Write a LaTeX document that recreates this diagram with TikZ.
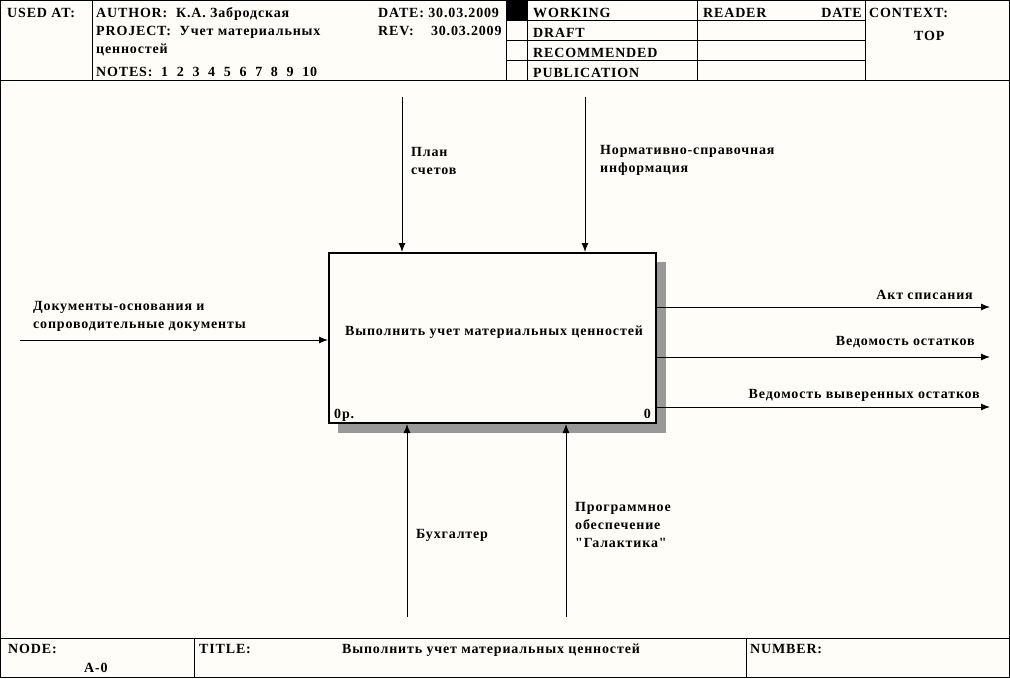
\documentclass[tikz,border=0pt]{standalone}
\usepackage{fontspec}
\setmainfont{Liberation Serif}
\newfontfamily\idef[LetterSpace=6]{Liberation Serif}
\usetikzlibrary{arrows.meta}
\definecolor{paper}{HTML}{FFFDF8}
\tikzset{
  hdr/.style={anchor=base west,inner sep=0pt,font=\idef\bfseries\fontsize{14}{18}\selectfont},
  lbl/.style={anchor=base west,inner sep=0pt,align=left,font=\idef\bfseries\fontsize{14}{18}\selectfont},
  lblr/.style={anchor=base east,inner sep=0pt,font=\idef\bfseries\fontsize{14}{18}\selectfont},
  frame/.style={draw=black,line width=1pt},
  arr/.style={draw=black,line width=1pt,-{Latex[length=9pt,width=7pt]}},
  fbox/.style={draw=black,line width=2pt,fill=paper,minimum width=327pt,minimum height=170pt,inner sep=0pt},
  shadow/.style={fill=black!40},
}
\begin{document}
\begin{tikzpicture}[x=1pt,y=-1pt]
\useasboundingbox (0,0) rectangle (1010,678);
\fill[paper] (0,0) rectangle (1010,678);
% outer frame and header
\draw[frame] (0.5,0.5) rectangle (1009.5,677.5);
\draw[frame] (0,80.5) -- (1010,80.5);
\draw[frame] (92.5,0) -- (92.5,80.5);
\draw[frame] (506.5,0) -- (506.5,80.5);
\draw[frame] (527.5,0) -- (527.5,80.5);
\draw[frame] (697.5,0) -- (697.5,80.5);
\draw[frame] (865.5,0) -- (865.5,80.5);
\foreach \yy in {20.5,40.5,60.5} \draw[frame] (506.5,\yy) -- (865.5,\yy);
\fill[black] (506.5,0) rectangle (527.5,20.5);
% footer
\draw[frame] (0,638.5) -- (1010,638.5);
\draw[frame] (194.5,638.5) -- (194.5,678);
\draw[frame] (746.5,638.5) -- (746.5,678);
% header texts
\node[hdr] (usedat) at (7,17) {USED AT:};
\node[hdr] (author) at (96,17) {AUTHOR:\ \ К.А. Забродская};
\node[hdr] (project) at (96,35) {PROJECT:\ \ Учет материальных};
\node[hdr] (project2) at (96,53) {ценностей};
\node[hdr] (notes) at (96,76) {NOTES:\ \ 1\ \ 2\ \ 3\ \ 4\ \ 5\ \ 6\ \ 7\ \ 8\ \ 9\ \ 10};
\node[hdr] (date) at (378,17) {DATE: 30.03.2009};
\node[hdr] (rev) at (378,35) {REV:\ \ \ \ 30.03.2009};
\node[hdr] (working) at (533,17) {WORKING};
\node[hdr] (draft) at (533,37) {DRAFT};
\node[hdr] (recom) at (533,57) {RECOMMENDED};
\node[hdr] (publ) at (533,77) {PUBLICATION};
\node[hdr] (reader) at (703,17) {READER};
\node[hdr,anchor=base east] (rdate) at (862,17) {DATE};
\node[hdr] (context) at (869,17) {CONTEXT:};
\node[hdr] (top) at (914,40) {TOP};
% footer texts
\node[hdr] (node) at (8,653) {NODE:};
\node[hdr] (nodeid) at (84,672) {A-0};
\node[hdr] (title) at (199,653) {TITLE:};
\node[hdr,anchor=base] (titletxt) at (491,653) {Выполнить учет материальных ценностей};
\node[hdr] (number) at (750,653) {NUMBER:};
% shadow
\fill[shadow] (656,262) rectangle (666,433);
\fill[shadow] (338,423) rectangle (666,433);
% function box
\node[fbox] (fn) at (492.5,338) {};
\node[hdr,anchor=base] (fntext) at (494,335) {Выполнить учет материальных ценностей};
\node[hdr] (fnnum) at (334,418) {0р.};
\node[hdr,anchor=base east] (fnid) at (651,418) {0};
% controls
\coordinate (c1) at (402,97);
\coordinate (c2) at (585,97);
\draw[arr] (c1) -- (c1 |- fn.north);
\draw[arr] (c2) -- (c2 |- fn.north);
\node[lbl] (c1l) at (411,174) {План\\счетов};
\node[lbl] (c2l) at (600,172) {Нормативно-справочная\\информация};
% input
\coordinate (i1) at (20,340);
\draw[arr] (i1) -- (i1 -| fn.west);
\node[lbl] (i1l) at (33,328) {Документы-основания и\\сопроводительные документы};
% outputs
\coordinate (o1) at (990,307);
\coordinate (o2) at (990,357);
\coordinate (o3) at (990,407);
\draw[arr] (o1 -| fn.east) -- (o1);
\draw[arr] (o2 -| fn.east) -- (o2);
\draw[arr] (o3 -| fn.east) -- (o3);
\node[lblr] (o1l) at (973,299) {Акт списания};
\node[lblr] (o2l) at (975,345) {Ведомость остатков};
\node[lblr] (o3l) at (980,398) {Ведомость выверенных остатков};
% mechanisms
\coordinate (m1) at (407,617);
\coordinate (m2) at (566,617);
\draw[arr] (m1) -- (m1 |- fn.south);
\draw[arr] (m2) -- (m2 |- fn.south);
\node[lbl] (m1l) at (416,538) {Бухгалтер};
\node[lbl] (m2l) at (575,547) {Программное\\обеспечение\\"Галактика"};
\end{tikzpicture}
\end{document}
